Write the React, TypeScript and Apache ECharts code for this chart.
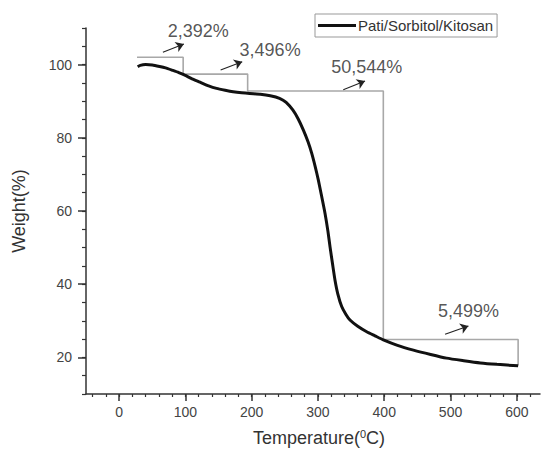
import React, { useEffect, useRef } from "react";
import * as echarts from "echarts";

const seriesName = "Pati/Sorbitol/Kitosan";

const temperature = [28, 32, 40, 50, 61, 70, 81, 90, 99, 110, 122, 135, 147, 160, 172, 185, 197, 213, 228, 242, 252, 262, 270, 278, 285, 290.5, 296, 300.5, 305, 310.6, 315, 318.2, 322, 325.7, 330, 335.8, 342, 348.3, 360, 373.5, 386, 398.6, 420, 444, 470, 494, 520, 545, 570, 602];
const weight = [99.4, 99.8, 100.0, 99.9, 99.5, 99.1, 98.4, 97.8, 97.1, 96.1, 95.2, 94.2, 93.5, 93.0, 92.6, 92.3, 92.1, 91.9, 91.5, 90.8, 89.7, 87.6, 85.2, 82.1, 78.9, 75.8, 72.0, 68.5, 64.5, 59.4, 54.5, 50.2, 45.5, 41.1, 37.3, 33.9, 31.8, 30.2, 28.5, 27.0, 25.9, 24.8, 23.3, 22.0, 20.8, 19.8, 19.1, 18.5, 18.1, 17.7];

// staircase bracket (temperature, weight)
const stepT = [27, 96.6, 96.6, 193.9, 193.9, 398.6, 398.6, 602, 602];
const stepW = [102, 102, 97.4, 97.4, 92.8, 92.8, 24.9, 24.9, 17.8];

// annotation arrows: start/end in data units
const arrowStart = [[66, 103.4], [153.1, 98.5], [338.2, 93.1], [491.8, 26.3]];
const arrowEnd = [[97.7, 105.6], [185.7, 100.8], [371, 95.5], [527, 28.6]];
const annoText = ["2,392%", "3,496%", "50,544%", "5,499%"];
const annoPos = [[119.5, 109.2], [227.8, 104.0], [373.5, 99.3], [527, 32.6]];

const xMajor = [0, 100, 200, 300, 400, 500, 600];
const xMinor = [-40, -20, 0, 20, 40, 60, 80, 100, 120, 140, 160, 180, 200, 220, 240, 260, 280, 300, 320, 340, 360, 380, 400, 420, 440, 460, 480, 500, 520, 540, 560, 580, 600, 620];
const yMajor = [20, 40, 60, 80, 100];

const FONT = "'Liberation Sans', Arial, sans-serif";

export default function App() {
  const ref = useRef<HTMLDivElement>(null);
  useEffect(() => {
    if (!ref.current) return;
    const chart = echarts.init(ref.current, undefined, { renderer: "svg" });
    const axisColor = "#333";
    const common = { min: -50, max: 635, type: "value" as const };
    chart.setOption({
      animation: false,
      backgroundColor: "#fff",
      textStyle: { fontFamily: FONT },
      grid: { left: 86, right: 1, top: 28, bottom: 61 },
      legend: {
        data: [{ name: seriesName, icon: "rect" }],
        left: 315,
        top: 14,
        orient: "horizontal",
        borderColor: "#999",
        borderWidth: 1,
        padding: [4, 4, 4, 3],
        itemWidth: 38,
        itemHeight: 3,
        itemGap: 4,
        itemStyle: { color: "#111" },
        textStyle: { fontSize: 15, color: "#333", fontFamily: FONT, padding: [0, 0, 0, -3] },
      },
      xAxis: [
        {
          ...common,
          name: "Temperature({s|0}C)",
          nameLocation: "middle",
          nameGap: 34,
          nameTextStyle: {
            fontSize: 18,
            color: "#333",
            fontFamily: FONT,
            padding: [0, 0, 0, 12],
            rich: { s: { fontSize: 11, verticalAlign: "top", padding: [0, 0, 8, 0], color: "#333" } },
          },
          axisLine: { show: true, onZero: false, lineStyle: { color: axisColor, width: 1.5 } },
          axisTick: { show: true, inside: false, length: 3, customValues: xMinor, lineStyle: { color: axisColor, width: 1.2 } },
          axisLabel: { customValues: xMajor, fontSize: 14, color: "#444", margin: 11, fontFamily: FONT },
          splitLine: { show: false },
        },
        {
          ...common,
          position: "bottom",
          axisLine: { show: false, onZero: false },
          axisTick: { show: true, inside: false, length: 7, customValues: xMajor, lineStyle: { color: axisColor, width: 1.5 } },
          axisLabel: { show: false },
          splitLine: { show: false },
        },
      ],
      yAxis: [
        {
          type: "value",
          min: 10,
          max: 110,
          interval: 5,
          name: "Weight(%)",
          nameLocation: "middle",
          nameGap: 58,
          nameTextStyle: { fontSize: 18, color: "#333", fontFamily: FONT },
          axisLine: { show: true, onZero: false, lineStyle: { color: axisColor, width: 1.5 } },
          axisTick: { show: true, inside: false, length: 4, lineStyle: { color: axisColor, width: 1.2 } },
          axisLabel: { customValues: yMajor, fontSize: 14, color: "#444", margin: 14, fontFamily: FONT },
          splitLine: { show: false },
        },
        {
          type: "value",
          min: 10,
          max: 110,
          position: "left",
          axisLine: { show: false, onZero: false },
          axisTick: { show: true, inside: false, length: 8, customValues: yMajor, lineStyle: { color: axisColor, width: 1.5 } },
          axisLabel: { show: false },
          splitLine: { show: false },
        },
      ],
      series: [
        {
          name: "steps",
          type: "line",
          data: stepT.map((t, i) => [t, stepW[i]]),
          symbol: "none",
          lineStyle: { color: "#a8a8a8", width: 1.6 },
          silent: true,
          z: 1,
          markLine: {
            silent: true,
            symbol: ["none", "arrow"],
            symbolSize: 8,
            label: { show: false },
            lineStyle: { color: "#222", width: 1.1, type: "solid" },
            data: arrowStart.map((s, i) => [{ coord: s }, { coord: arrowEnd[i] }]),
          },
        },
        {
          name: seriesName,
          type: "line",
          data: temperature.map((t, i) => [t, weight[i]]),
          symbol: "none",
          smooth: 0.2,
          lineStyle: { color: "#111", width: 3 },
          itemStyle: { color: "#111" },
          z: 3,
        },
        {
          name: "labels",
          type: "scatter",
          data: annoPos.map((p, i) => [p[0], p[1], annoText[i]]),
          symbolSize: 0,
          silent: true,
          clip: false,
          label: {
            show: true,
            position: "inside",
            formatter: (p: any) => p.value[2],
            fontSize: 18,
            color: "#2a2a2a",
            fontFamily: FONT,
          },
        },
      ],
    });
    return () => chart.dispose();
  }, []);
  return <div ref={ref} style={{ width: 541, height: 455, position: "absolute", left: 0, top: 0 }} />;
}
